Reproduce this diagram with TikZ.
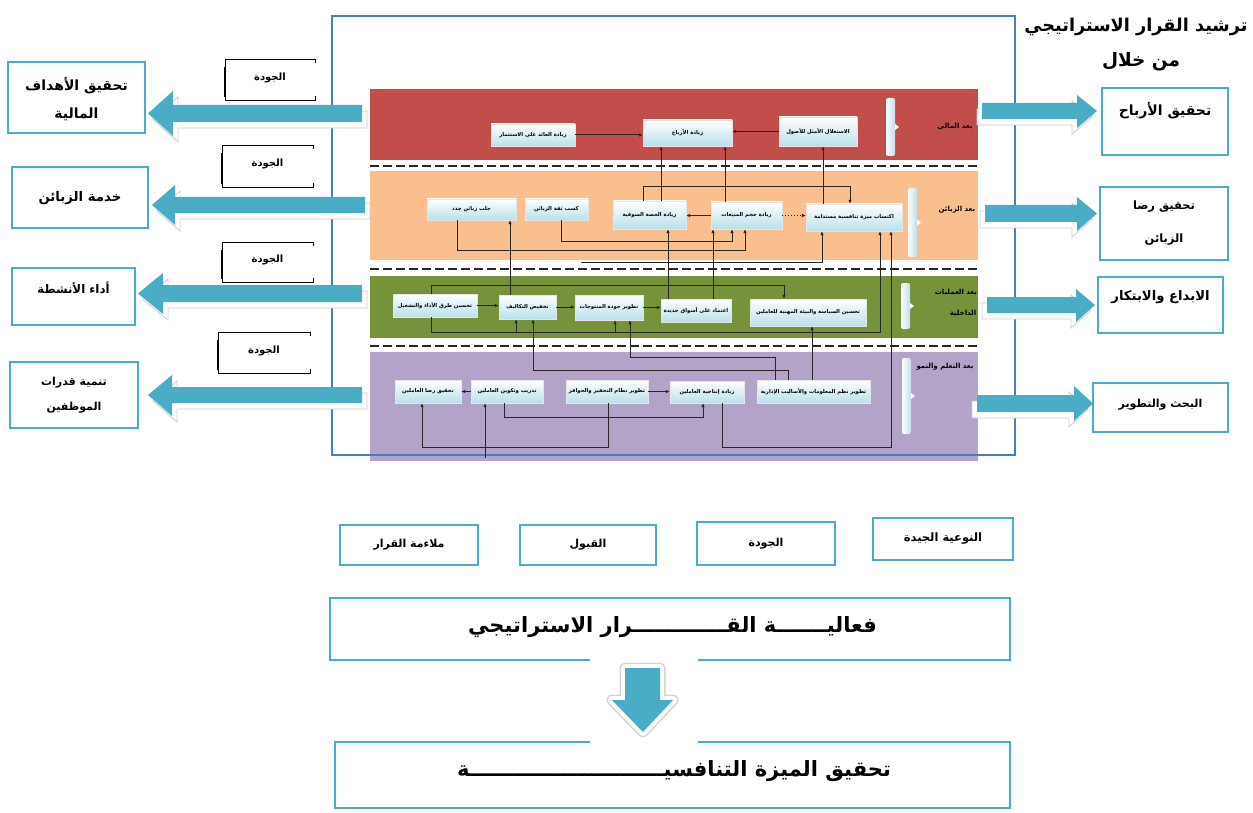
\documentclass[tikz,border=0pt]{standalone}
\usepackage{fontspec}
\newfontfamily\arabicfont[Script=Arabic]{DejaVu Sans}
\TeXXeTstate=1
\usetikzlibrary{arrows.meta}
\newcommand\artxt[1]{{\arabicfont\beginR #1\endR}}
\definecolor{frameblue}{HTML}{4A7CC4}
\definecolor{bandred}{HTML}{C24E4B}
\definecolor{bandorange}{HTML}{F9BF8F}
\definecolor{bandgreen}{HTML}{76933C}
\definecolor{bandpurple}{HTML}{B4A3C8}
\definecolor{tealc}{HTML}{4AACC5}
\definecolor{tealline}{HTML}{4BACC6}
\definecolor{boxblue}{HTML}{B9E0EA}
\definecolor{brackblue}{HTML}{BFDDE8}

% xr, xb, tip, ys1, ys2, yh1, yh2, shadow-xshift
\newcommand\bigarrow[8]{%
  \draw[gray!40, line width=0.8pt, fill=white, shift={(#8,6)}] (#1,#4) -- (#2,#4) -- (#2,#6) -- (#3,{(#4+#5)/2}) -- (#2,#7) -- (#2,#5) -- (#1,#5) -- cycle;
  \fill[tealc] (#1,#4) -- (#2,#4) -- (#2,#6) -- (#3,{(#4+#5)/2}) -- (#2,#7) -- (#2,#5) -- (#1,#5) -- cycle;}

% x1 y1 x2 y2 name
\newcommand\qualbox[5]{%
  \draw[line width=0.6pt] (#3,{#2+4}) -- (#3,#2) -- (#1,#2) -- (#1,#4) -- (#3,#4) -- (#3,{#4-4});
  \draw[line width=2.2pt] (#1,{#2+8}) -- (#1,{#4-3});
  \node[qtext] (#5) at ({(#1+#3)/2},{(#2+#4)/2-2}) {\artxt{الجودة}};}

% x ytop ybot
\newcommand\bandbracket[3]{%
  \shade[left color=white, right color=brackblue, rounded corners=2pt] (#1,#2) rectangle ({#1+9},#3);
  \fill[white] ({#1+9},{(#2+#3)/2-3}) -- ({#1+13},{(#2+#3)/2}) -- ({#1+9},{(#2+#3)/2+3}) -- cycle;}

\tikzset{
  innerbox/.style={draw=white!80!gray, line width=0.3pt, top color=white, bottom color=boxblue,
    inner sep=1pt, font=\fontsize{5.3}{6}\selectfont\bfseries},
  conn/.style={line width=1pt, black!85, -{Latex[length=4pt,width=3.5pt]}},
  sepline/.style={line width=2.6pt, dash pattern=on 9pt off 4pt, black!85},
  outbox/.style={draw=tealline, line width=2.6pt, fill=white},
  botbox/.style={draw=tealline, line width=2pt, fill=white},
  qtext/.style={font=\fontsize{10}{12}\selectfont\bfseries},
  sidetxt/.style={font=\fontsize{11}{25}\selectfont\bfseries, align=center},
  bandlbl/.style={font=\fontsize{7}{8}\selectfont\bfseries},
  bigtxt/.style={font=\fontsize{21}{24}\selectfont\bfseries},
}

\begin{document}
\begin{tikzpicture}[x=1pt,y=-1pt]
\useasboundingbox (0,0) rectangle (1253,813);
\fill[white] (0,0) rectangle (1253,813);

% bands
\fill[bandred] (370,89) rectangle (978,160);
\fill[bandorange] (370,171) rectangle (978,260);
\fill[bandgreen] (370,276) rectangle (978,338);
\fill[bandpurple] (370,352) rectangle (978,461);

% frame
\draw[frameblue, line width=2pt] (332,16) rectangle (1015,455);

% separators
\draw[sepline] (370,166) -- (978,166);
\draw[sepline] (370,269) -- (978,269);
\draw[sepline] (370,346) -- (978,346);

% brackets
\bandbracket{886}{98}{156}
\bandbracket{908}{188}{257}
\bandbracket{901}{283}{329}
\bandbracket{902}{358}{434}

% band labels
\node[bandlbl] (lb1) at (955,127) {\artxt{بعد المالي}};
\node[bandlbl] (lb2) at (957,210) {\artxt{بعد الزبائن}};
\node[bandlbl] (lb3) at (956,292) {\artxt{بعد العمليات}};
\node[bandlbl] (lb3b) at (963,313) {\artxt{الداخلية}};
\node[bandlbl] (lb4) at (945,367) {\artxt{بعد التعلم والنمو}};

% financial
\node[innerbox, minimum width=84pt, minimum height=22pt] (A1) at (533,135) {\artxt{زيادة العائد على الاستثمار}};
\node[innerbox, minimum width=89pt, minimum height=26pt] (A2) at (687.5,133) {\artxt{زيادة الأرباح}};
\node[innerbox, minimum width=78pt, minimum height=29pt] (A3) at (818,131.5) {\artxt{الاستغلال الأمثل للأصول}};

% customers
\node[innerbox, minimum width=89pt, minimum height=21pt] (B1) at (471.5,209.5) {\artxt{جلب زبائن جدد}};
\node[innerbox, minimum width=63pt, minimum height=21pt] (B2) at (556.5,209.5) {\artxt{كسب ثقة الزبائن}};
\node[innerbox, minimum width=73pt, minimum height=28pt] (B3) at (649.5,215) {\artxt{زيادة الحصة السوقية}};
\node[innerbox, minimum width=71pt, minimum height=27pt] (B4) at (746.5,215.5) {\artxt{زيادة حجم المبيعات}};
\node[innerbox, minimum width=96pt, minimum height=27pt] (B5) at (854,217.5) {\artxt{اكتساب ميزة تنافسية مستدامة}};

% internal processes
\node[innerbox, minimum width=84pt, minimum height=23pt] (C1) at (435,305.5) {\artxt{تحسين طرق الأداء والتشغيل}};
\node[innerbox, minimum width=57pt, minimum height=24pt] (C2) at (527.5,307) {\artxt{تخفيض التكاليف}};
\node[innerbox, minimum width=68pt, minimum height=25pt] (C3) at (609,307.5) {\artxt{تطوير جودة المنتوجات}};
\node[innerbox, minimum width=70pt, minimum height=23pt] (C4) at (696,310.5) {\artxt{اعتماد على أسواق جديدة}};
\node[innerbox, minimum width=116pt, minimum height=27pt] (C5) at (808,312.5) {\artxt{تحسين السياسة والبيئة المهنية للعاملين}};

% learning and growth
\node[innerbox, minimum width=66pt, minimum height=23pt] (D1) at (428,391.5) {\artxt{تحقيق رضا العاملين}};
\node[innerbox, minimum width=72pt, minimum height=23pt] (D2) at (507,391.5) {\artxt{تدريب وتكوين العاملين}};
\node[innerbox, minimum width=82pt, minimum height=23pt] (D3) at (607,391.5) {\artxt{تطوير نظام التحفيز والحوافز}};
\node[innerbox, minimum width=74pt, minimum height=22pt] (D4) at (707,392) {\artxt{زيادة إنتاجية العاملين}};
\node[innerbox, minimum width=113pt, minimum height=23pt] (D5) at (813.5,391.5) {\artxt{تطوير نظم المعلومات والأساليب الإدارية}};

% connectors financial
\draw[conn] (A1.east) -- (A2.west |- A1.east);
\draw[conn, draw=red!50!black] (A3.west) -- (A2.east |- A3.west);
\draw[conn] (B3.north -| 661,0) -- (A2.south -| 661,0);
\draw[conn] (B4.north -| 725,0) -- (A2.south -| 725,0);
\draw[conn] (B5.north -| 823,0) -- (A3.south -| 823,0);

% connectors customers
\draw[conn] (B3.north -| 643,0) -- (643,187) -- (850,187) -- (B5.north -| 850,0);
\draw[conn] (B4.west) -- (B3.east |- B4.west);
\draw[conn, dotted, draw=red!50!black] (B4.east) -- (B5.west |- B4.east);
\draw[conn] (B2.south -| 561,0) -- (561,242) -- (732,242) -- (B4.south -| 732,0);
\draw[conn] (B1.south -| 457,0) -- (457,251) -- (745,251) -- (B4.south -| 745,0);
\coordinate (s1) at (581,262);
\draw[conn] (s1) -- (822,262) -- (B5.south -| 822,0);

% connectors internal
\draw[conn] (C2.north -| 510,0) -- (B1.south -| 510,0);
\draw[conn] (C4.north -| 668,0) -- (B3.south -| 668,0);
\draw[conn] (C4.north -| 713,0) -- (B4.south -| 713,0);
\draw[conn] (C1.north -| 431,0) -- (431,285) -- (784,285) -- (C5.north -| 784,0);
\draw[conn] (C1.east) -- (C2.west |- C1.east);
\draw[conn] (C2.east) -- (C3.west |- C2.east);
\draw[conn] (C3.east) -- (C4.west |- C3.east);
\draw[conn] (C1.south -| 431,0) -- (431,332) -- (880,332) -- (B5.south -| 880,0);
\coordinate (g1) at (516,332);
\coordinate (g2) at (615,332);
\draw[conn] (g1) -- (C2.south -| 516,0);
\draw[conn] (g2) -- (C3.south -| 615,0);

% connectors learning
\draw[conn] (D5.north -| 788,0) -- (788,370) -- (533,370) -- (C2.south -| 533,0);
\draw[conn, line width=0.6pt] (D5.north -| 812,0) -- (C5.south -| 812,0);
\draw[conn] (D5.north -| 775,0) -- (775,357) -- (630,357) -- (C3.south -| 630,0);
\draw[conn] (D2.west) -- (D1.east |- D2.west);
\draw[conn] (D3.east) -- (D4.west |- D3.east);
\draw[conn] (D4.south -| 722,0) -- (722,447) -- (891,447) -- (B5.south -| 891,0);
\draw[conn] (D3.south -| 608,0) -- (608,447) -- (422,447) -- (D1.south -| 422,0);
\draw[conn] (D2.south -| 504,0) -- (504,417) -- (703,417) -- (D4.south -| 703,0);
\coordinate (s2) at (485,458);
\draw[conn] (s2) -- (D2.south -| 485,0);

% quality boxes
\qualbox{225}{59}{315}{100}{Q1}
\qualbox{222}{145}{313}{187}{Q2}
\qualbox{222}{242}{313}{282}{Q3}
\qualbox{218}{332}{310}{373}{Q4}

% left arrows
\bigarrow{362}{173}{148}{105}{122}{91}{136}{5}
\bigarrow{365}{175}{152}{197}{213}{185}{225}{5}
\bigarrow{362}{163}{138}{285}{302}{273}{314}{5}
\bigarrow{362}{172}{148}{387}{403}{375}{416}{5}

% right arrows
\bigarrow{982}{1077}{1097}{103}{119}{95}{128}{-5}
\bigarrow{985}{1077}{1097}{205}{222}{197}{231}{-5}
\bigarrow{987}{1076}{1095}{297}{313}{289}{322}{-5}
\bigarrow{977}{1074}{1093}{395}{412}{386}{421}{-5}

% left boxes
\node[outbox, minimum width=137pt, minimum height=71pt] (L1) at (76.5,97.5) {};
\node[sidetxt, font=\fontsize{14}{28}\selectfont\bfseries] (L1t) at (76.5,99) {\artxt{تحقيق الأهداف}\\\artxt{المالية}};
\node[outbox, minimum width=136pt, minimum height=61pt] (L2) at (80,197.5) {};
\node[sidetxt, font=\fontsize{13.3}{27}\selectfont\bfseries] (L2t) at (80,198) {\artxt{خدمة الزبائن}};
\node[outbox, minimum width=123pt, minimum height=57pt] (L3) at (73.5,296.5) {};
\node[sidetxt, font=\fontsize{11.8}{25}\selectfont\bfseries] (L3t) at (73.5,288) {\artxt{أداء الأنشطة}};
\node[outbox, minimum width=128pt, minimum height=66pt] (L4) at (74,395) {};
\node[sidetxt] (L4t) at (74,395.5) {\artxt{تنمية قدرات}\\\artxt{الموظفين}};

% right boxes
\node[outbox, minimum width=126pt, minimum height=67pt] (R1) at (1165,121.5) {};
\node[sidetxt, font=\fontsize{14}{25}\selectfont\bfseries] (R1t) at (1165,111) {\artxt{تحقيق الأرباح}};
\node[outbox, minimum width=128pt, minimum height=73pt] (R2) at (1164,223.5) {};
\node[sidetxt, font=\fontsize{11.5}{33}\selectfont\bfseries] (R2t) at (1164,223.5) {\artxt{تحقيق رضا}\\\artxt{الزبائن}};
\node[outbox, minimum width=125pt, minimum height=56pt] (R3) at (1160.5,305) {};
\node[sidetxt, font=\fontsize{13.2}{25}\selectfont\bfseries] (R3t) at (1160.5,297) {\artxt{الابداع والابتكار}};
\node[outbox, minimum width=135pt, minimum height=49pt] (R4) at (1160.5,407.5) {};
\node[sidetxt] (R4t) at (1160.5,405) {\artxt{البحث والتطوير}};

% title
\node[font=\fontsize{17.7}{20}\selectfont\bfseries] (T1) at (1136,27) {\artxt{ترشيد القرار الاستراتيجي}};
\node[font=\fontsize{18.5}{20}\selectfont\bfseries] (T2) at (1141,62) {\artxt{من خلال}};

% bottom boxes
\node[botbox, minimum width=138pt, minimum height=40pt, font=\fontsize{11}{13}\selectfont\bfseries] (M1) at (409,545) {\artxt{ملاءمة القرار}};
\node[botbox, minimum width=136pt, minimum height=40pt, font=\fontsize{11}{13}\selectfont\bfseries] (M2) at (588,545) {\artxt{القبول}};
\node[botbox, minimum width=138pt, minimum height=43pt, font=\fontsize{11}{13}\selectfont\bfseries] (M3) at (766,543.5) {\artxt{الجودة}};
\node[botbox, minimum width=140pt, minimum height=42pt, font=\fontsize{11.5}{13}\selectfont\bfseries] (M4) at (943,539) {\artxt{النوعية الجيدة}};

\node[botbox, line width=2.4pt, minimum width=680pt, minimum height=62pt] (E1) at (670,629) {};
\node[bigtxt] (E1t) at (672.5,627) {\artxt{فعاليـــــــة القـــــــــــــرار الاستراتيجي}};

\node[botbox, line width=2.4pt, minimum width=675pt, minimum height=66pt] (E2) at (672.5,775) {};
\node[bigtxt] (E2t) at (674,771) {\artxt{تحقيق الميزة التنافسيـــــــــــــــــــــــــــة}};

% down arrow with white halo
\fill[white] (590,657) rectangle (698,746);
\draw[gray!35, line width=11pt, line join=round] (625,668) -- (660,668) -- (660,700) -- (673,700) -- (643,732) -- (612,700) -- (625,700) -- cycle;
\draw[white, line width=8pt, line join=round] (625,668) -- (660,668) -- (660,700) -- (673,700) -- (643,732) -- (612,700) -- (625,700) -- cycle;
\fill[tealc] (625,668) -- (660,668) -- (660,700) -- (673,700) -- (643,732) -- (612,700) -- (625,700) -- cycle;
\end{tikzpicture}
\end{document}
